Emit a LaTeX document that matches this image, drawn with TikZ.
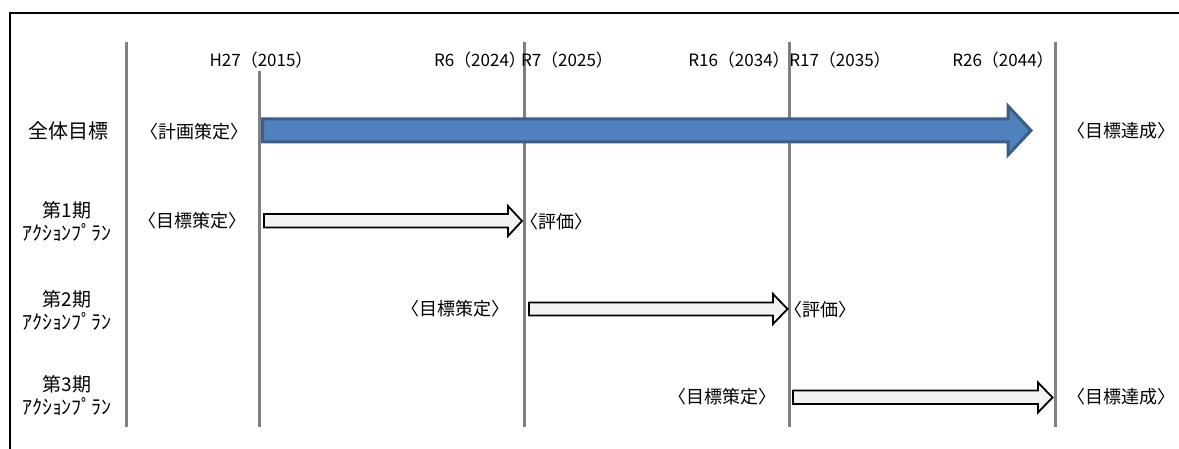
\documentclass[tikz,border=0pt]{standalone}
\usepackage{fontspec}
\setmainfont{Noto Sans CJK JP}
\definecolor{bluefill}{HTML}{4F81BD}
\definecolor{blueedge}{HTML}{3A5F8B}
\definecolor{gridgray}{HTML}{808080}
\definecolor{whitefill}{HTML}{F2F2F2}
\tikzset{
  txt/.style={inner sep=0pt, font=\fontsize{18}{20}\selectfont},
  big/.style={inner sep=0pt, font=\fontsize{20}{22}\selectfont},
  rowlab/.style={inner sep=0pt, align=center, font=\fontsize{19}{23}\selectfont},
  yearlab/.style={inner sep=0pt, font=\fontsize{17}{19}\selectfont},
  gridline/.style={draw=gridgray, line width=3pt},
  bluearrow/.style={fill=bluefill, draw=blueedge, line width=3pt, line join=miter},
  whitearrow/.style={fill=whitefill, draw=black, line width=1.8pt, line join=miter},
  frame/.style={draw=black, line width=2.4pt}
}
\newcommand{\katakanaplan}{{\fontsize{20}{23}\selectfont ｱｸｼｮﾝﾌﾟﾗﾝ}}
\begin{document}
\begin{tikzpicture}[x=1pt,y=-1pt]
\useasboundingbox (0,0) rectangle (1179,449);
% frame (top and left edges)
\draw[frame] (10,449) -- (10,13) -- (1179,13);
% grid lines
\coordinate (g0t) at (126,42);  \coordinate (g0b) at (126,427);
\coordinate (g1t) at (259,71);  \coordinate (g1b) at (259,427);
\coordinate (g2t) at (524,42);  \coordinate (g2b) at (524,427);
\coordinate (g3t) at (789,42);  \coordinate (g3b) at (789,427);
\coordinate (g4t) at (1055,42); \coordinate (g4b) at (1055,427);
\draw[gridline] (g0t) -- (g0b);
\draw[gridline] (g1t) -- (g1b);
\draw[gridline] (g2t) -- (g2b);
\draw[gridline] (g3t) -- (g3b);
\draw[gridline] (g4t) -- (g4b);
% year labels
\node[yearlab] (y1) at (261,60) {H27（2015）};
\node[yearlab] (y2) at (480,60) {R6（2024）};
\node[yearlab] (y3) at (567,60) {R7（2025）};
\node[yearlab] (y4) at (739,60) {R16（2034）};
\node[yearlab] (y5) at (840,60) {R17（2035）};
\node[yearlab] (y6) at (1003,60) {R26（2044）};
% row labels
\node[big] (r0) at (68,131) {全体目標};
\node[rowlab] (r1) at (67,221.5) {第1期\\\katakanaplan};
\node[rowlab] (r2) at (67,310) {第2期\\\katakanaplan};
\node[rowlab] (r3) at (67,395) {第3期\\\katakanaplan};
% overall arrow
\draw[bluearrow] (262.5,119) -- (1008,119) -- (1008,106) -- (1031,130.5) -- (1008,155) -- (1008,142) -- (262.5,142) -- cycle;
% period arrows
\draw[whitearrow] (264,214) -- (508,214) -- (508,206) -- (522,221) -- (508,236) -- (508,227.5) -- (264,227.5) -- cycle;
\draw[whitearrow] (529,302.5) -- (773,302.5) -- (773,294) -- (787.5,309) -- (773,324) -- (773,315.5) -- (529,315.5) -- cycle;
\draw[whitearrow] (793,390.5) -- (1038,390.5) -- (1038,382.5) -- (1052.5,397.5) -- (1038,412.5) -- (1038,404) -- (793,404) -- cycle;
% annotations
\node[txt] (a0l) at (194,132) {〈計画策定〉};
\node[txt] (a0r) at (1121,131) {〈目標達成〉};
\node[txt] (a1l) at (192,221) {〈目標策定〉};
\node[txt] (a1r) at (556,222) {〈評価〉};
\node[txt] (a2l) at (455,309) {〈目標策定〉};
\node[txt] (a2r) at (820,310) {〈評価〉};
\node[txt] (a3l) at (722,397) {〈目標策定〉};
\node[txt] (a3r) at (1121,397) {〈目標達成〉};
\end{tikzpicture}
\end{document}
